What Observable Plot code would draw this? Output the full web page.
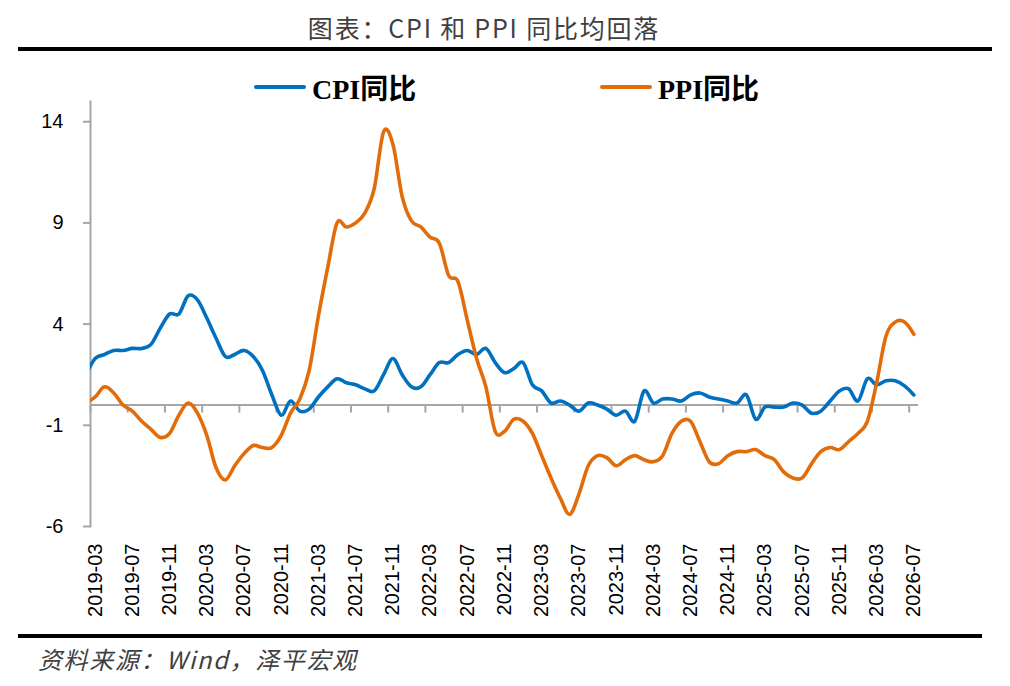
<!DOCTYPE html>
<html><head><meta charset="utf-8">
<script src="https://cdn.jsdelivr.net/npm/d3@7"></script>
<script src="https://cdn.jsdelivr.net/npm/@observablehq/plot@0.6"></script>
<style>
body{margin:0;background:#fff;}
#wrap{position:relative;width:1010px;height:686px;overflow:hidden;background:#fff;}
#title{position:absolute;left:0;width:968px;top:9px;text-align:center;font-family:"Noto Sans CJK SC";font-size:25px;color:#404040;line-height:36px;letter-spacing:1.8px;}
.rule{position:absolute;background:#000;}
#chart{position:absolute;left:0;top:52px;}
.leg{position:absolute;top:69px;height:36px;display:flex;align-items:center;font-family:"Liberation Serif","Noto Sans CJK SC";font-weight:bold;font-size:28px;color:#000;white-space:nowrap;}
.sw{width:52px;height:4px;margin-right:6px;border-radius:2px;}
#src{position:absolute;left:38px;top:644px;font-family:"Noto Sans CJK SC";font-style:italic;font-size:24px;color:#404040;line-height:30px;letter-spacing:1.6px;white-space:nowrap;}
</style></head>
<body><div id="wrap">
<div id="title">图表：CPI 和 PPI 同比均回落</div>
<div class="rule" style="left:18px;width:974px;top:47px;height:4px;"></div>
<div id="chart"></div>
<div id="leg1" class="leg" style="left:254px;"><div class="sw" style="background:#0070C0"></div><span>CPI同比</span></div>
<div id="leg2" class="leg" style="left:600px;"><div class="sw" style="background:#E36C0A"></div><span>PPI同比</span></div>
<div class="rule" style="left:18px;width:964px;top:634px;height:4px;"></div>
<div id="src">资料来源：Wind，泽平宏观</div>
</div>
<script>
// months 2019-02 .. 2026-07 (first month only partially visible at the left edge)
const months = d3.utcMonths(new Date(Date.UTC(2019,1,1)), new Date(Date.UTC(2026,7,1))).map(d3.utcFormat("%Y-%m"));

const cpi = [
 1.5,
 2.3,2.5,2.7,2.7,2.8,2.8,3.0,3.8,4.5,4.5,
 5.4,5.2,4.3,3.3,2.4,2.5,2.7,2.4,1.7,0.5,-0.5,0.2,
 -0.3,-0.2,0.4,0.9,1.3,1.1,1.0,0.8,0.7,1.5,2.3,1.5,
 0.9,0.9,1.5,2.1,2.1,2.5,2.7,2.5,2.8,2.1,1.6,1.8,
 2.1,1.0,0.7,0.1,0.2,0.0,-0.3,0.1,0.0,-0.2,-0.5,-0.3,
 -0.8,0.7,0.1,0.3,0.3,0.2,0.5,0.6,0.4,0.3,0.2,0.1,
 0.5,-0.7,-0.1,-0.1,-0.1,0.1,0.0,-0.4,-0.3,0.2,0.7,0.8,
 0.2,1.3,1.0,1.2,1.2,0.95,0.5
];

const ppi = [
 0.1,
 0.4,0.9,0.6,0.0,-0.3,-0.8,-1.2,-1.6,-1.4,-0.5,
 0.1,-0.4,-1.5,-3.1,-3.7,-3.0,-2.4,-2.0,-2.1,-2.1,-1.5,-0.4,
 0.3,1.7,4.4,6.8,9.0,8.8,9.0,9.5,10.7,13.5,12.9,10.3,
 9.1,8.8,8.3,8.0,6.4,6.1,4.2,2.3,0.9,-1.3,-1.3,-0.7,
 -0.8,-1.4,-2.5,-3.6,-4.6,-5.4,-4.4,-3.0,-2.5,-2.6,-3.0,-2.7,
 -2.5,-2.7,-2.8,-2.5,-1.4,-0.8,-0.8,-1.8,-2.8,-2.9,-2.5,-2.3,
 -2.3,-2.2,-2.5,-2.7,-3.3,-3.6,-3.6,-2.9,-2.3,-2.1,-2.2,-1.8,
 -1.4,-0.8,1.1,3.4,4.1,4.1,3.5
];

const xTickLabels = ["2019-03","2019-07","2019-11","2020-03","2020-07","2020-11","2021-03","2021-07","2021-11","2022-03","2022-07","2022-11","2023-03","2023-07","2023-11","2024-03","2024-07","2024-11","2025-03","2025-07","2025-11","2026-03","2026-07"];
const yTicks = [-6,-1,4,9,14];

const data = months.map((m,k)=>({k, m, cpi: cpi[k], ppi: ppi[k]}));
const xTicks = xTickLabels.map(l => months.indexOf(l));

const H = 580, mT = 49, mB = 106;
const yDomain = [-6, 15];
const tickLen = 8 * (yDomain[1]-yDomain[0]) / (H - mT - mB);
const axisColor = "#a6a6a6";

const chart = Plot.plot({
  width: 1010, height: H,
  marginTop: mT, marginBottom: mB, marginLeft: 90, marginRight: 92,
  x: {domain: [0.5, 89.5]},
  y: {domain: yDomain},
  style: {fontFamily: "'Liberation Sans', Arial, sans-serif", fontSize: "20px", color: "#000", background: "transparent", overflow: "visible"},
  marks: [
    Plot.ruleY([0], {stroke: axisColor, strokeWidth: 2}),
    Plot.ruleX(xTicks, {x: d => d - 0.5, y1: 0, y2: -tickLen, stroke: axisColor, strokeWidth: 2}),
    Plot.frame({anchor: "left", stroke: axisColor, strokeWidth: 2}),
    Plot.axisY({ticks: yTicks, tickFormat: d => String(d), tickSize: 7, tickPadding: 20, stroke: axisColor, strokeWidth: 2, fill: "#000", fontSize: 20, label: null}),
    Plot.axisX({ticks: xTicks, tickFormat: k => months[k], tickSize: 0, tickPadding: 17, tickRotate: -90, fill: "#000", fontSize: 20, label: null}),
    Plot.line(data, {x: "k", y: "cpi", stroke: "#0070C0", strokeWidth: 3.6, curve: "cardinal", clip: true}),
    Plot.line(data, {x: "k", y: "ppi", stroke: "#E36C0A", strokeWidth: 3.6, curve: "cardinal", clip: true})
  ]
});
document.getElementById("chart").appendChild(chart);
</script>
</body></html>
